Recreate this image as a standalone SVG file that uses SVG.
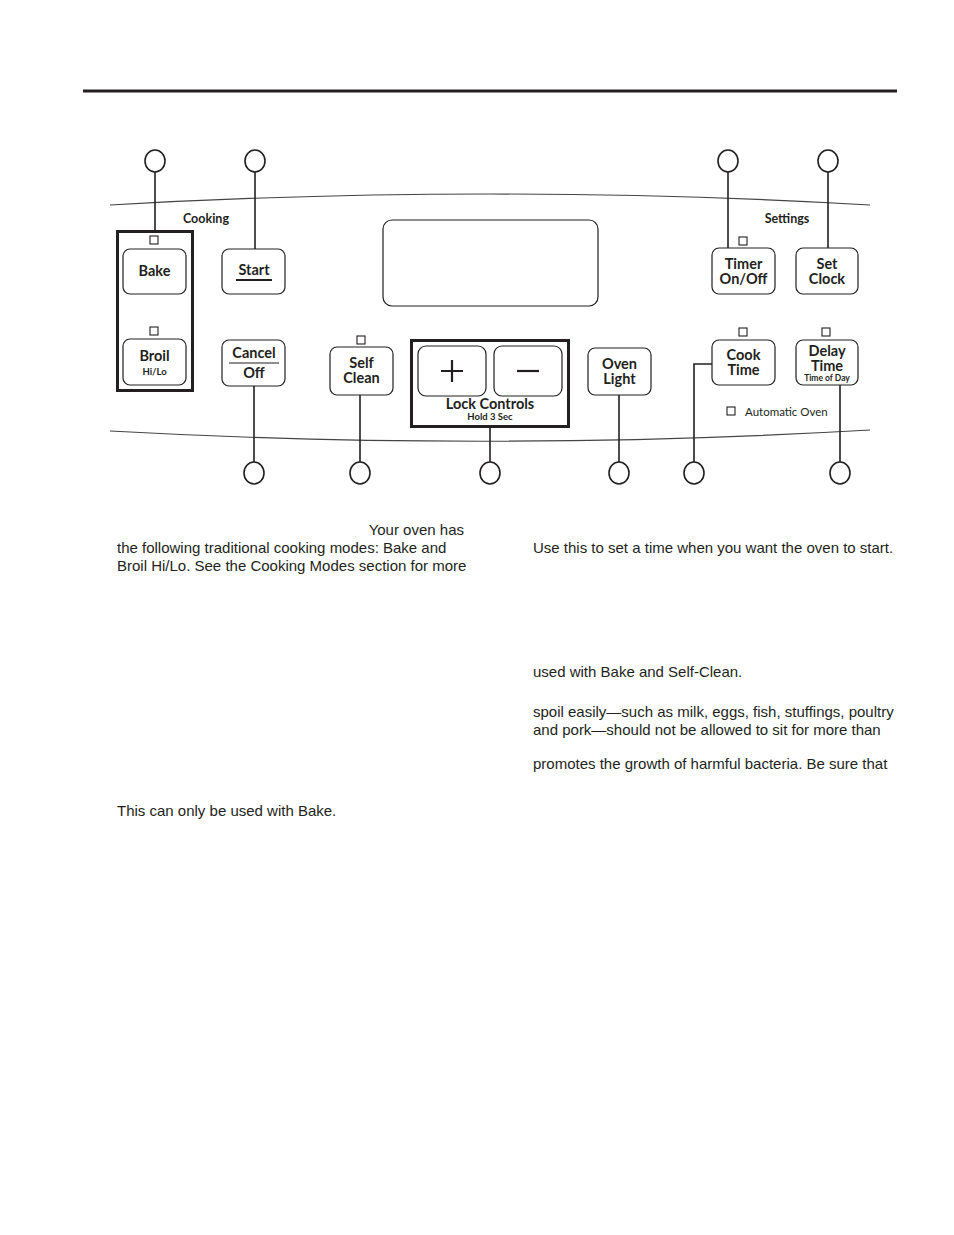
<svg xmlns="http://www.w3.org/2000/svg" width="954" height="1235" viewBox="0 0 954 1235">
<style>
.btn{fill:#fff;stroke:#231f20;stroke-width:1.2}
.box{fill:none;stroke:#231f20;stroke-width:3}
.ind{fill:#fff;stroke:#231f20;stroke-width:1.1}
.bt{font-family:Lato,"Liberation Sans",sans-serif;font-weight:700;font-size:14.5px;fill:#231f20;text-anchor:middle}
.sm{font-family:Lato,"Liberation Sans",sans-serif;font-weight:700;font-size:9.5px;fill:#231f20;text-anchor:middle}
.lab{font-family:Lato,"Liberation Sans",sans-serif;font-weight:700;font-size:12.5px;fill:#231f20;text-anchor:middle}
.ao{font-family:Lato,"Liberation Sans",sans-serif;font-size:11.5px;fill:#231f20}
.p{font-family:"Liberation Sans",Arial,sans-serif;font-size:15px;fill:#231f20}
.c{fill:#fff;stroke:#231f20;stroke-width:1.6}
.ln{fill:none;stroke:#231f20;stroke-width:1.6}
</style>
<line x1="83" y1="91" x2="897" y2="91" stroke="#231f20" stroke-width="3"/>
<path d="M110 205 Q490 183 870 205" fill="none" stroke="#444" stroke-width="1.2"/>
<path d="M110 431 Q490 452 870 430" fill="none" stroke="#444" stroke-width="1.2"/>
<text class="lab" x="206" y="223">Cooking</text>
<text class="lab" x="787" y="223">Settings</text>
<g id="connectors">
<line class="ln" x1="155" y1="172" x2="155" y2="231"/>
<line class="ln" x1="255" y1="172" x2="255" y2="249"/>
<line class="ln" x1="728" y1="172" x2="728" y2="248"/>
<line class="ln" x1="828" y1="172" x2="828" y2="248"/>
<line class="ln" x1="254" y1="386" x2="254" y2="462"/>
<line class="ln" x1="360" y1="395" x2="360" y2="462"/>
<line class="ln" x1="490" y1="427" x2="490" y2="462"/>
<line class="ln" x1="619" y1="395" x2="619" y2="462"/>
<polyline class="ln" points="712,364 694,364 694,462"/>
<line class="ln" x1="840" y1="385" x2="840" y2="462"/>
</g>
<g id="callouts">
<ellipse class="c" cx="155" cy="161" rx="10" ry="11"/>
<ellipse class="c" cx="255" cy="161" rx="10" ry="11"/>
<ellipse class="c" cx="728" cy="161" rx="10" ry="11"/>
<ellipse class="c" cx="828" cy="161" rx="10" ry="11"/>
<ellipse class="c" cx="254" cy="473" rx="10" ry="11"/>
<ellipse class="c" cx="360" cy="473" rx="10" ry="11"/>
<ellipse class="c" cx="490" cy="473" rx="10" ry="11"/>
<ellipse class="c" cx="619" cy="473" rx="10" ry="11"/>
<ellipse class="c" cx="694" cy="473" rx="10" ry="11"/>
<ellipse class="c" cx="840" cy="473" rx="10" ry="11"/>
</g>
<g id="cooking-group"><rect class="box" x="117.5" y="231.5" width="75" height="159"/></g>
<g id="bake">
<rect class="ind" x="150" y="236" width="8" height="8"/>
<rect class="btn" x="123" y="249" width="63" height="45" rx="7"/>
<text class="bt" x="154.5" y="276">Bake</text>
</g>
<g id="broil">
<rect class="ind" x="150" y="327" width="8" height="8"/>
<rect class="btn" x="123" y="339" width="63" height="46" rx="7"/>
<text class="bt" x="154.5" y="361">Broil</text>
<text class="sm" x="154.5" y="375">Hi/Lo</text>
</g>
<g id="start">
<rect class="btn" x="222" y="249" width="63" height="45" rx="7"/>
<text class="bt" x="254" y="275">Start</text>
<line x1="236" y1="280" x2="272" y2="280" stroke="#231f20" stroke-width="1.8"/>
</g>
<g id="cancel">
<rect class="btn" x="222" y="340" width="63" height="46" rx="7"/>
<text class="bt" x="254" y="358">Cancel</text>
<line x1="229" y1="363" x2="279" y2="363" stroke="#231f20" stroke-width="1.2"/>
<text class="bt" x="254" y="378">Off</text>
</g>
<g id="display"><rect class="btn" x="383" y="220" width="215" height="86" rx="9"/></g>
<g id="self-clean">
<rect class="ind" x="357" y="336" width="8" height="8"/>
<rect class="btn" x="330" y="347" width="63" height="48" rx="7"/>
<text class="bt" x="361.5" y="368">Self</text>
<text class="bt" x="361.5" y="383">Clean</text>
</g>
<g id="lock-controls">
<rect class="box" x="411.5" y="340.5" width="157" height="86"/>
<rect class="btn" x="418" y="346" width="68" height="50" rx="8" stroke-width="2"/>
<rect class="btn" x="494" y="346" width="68" height="50" rx="8" stroke-width="2"/>
<path d="M452 360v22M441 371h22" stroke="#231f20" stroke-width="2.2"/>
<path d="M517 371h22" stroke="#231f20" stroke-width="2.2"/>
<text class="bt" x="490" y="409">Lock Controls</text>
<text class="sm" x="490" y="420">Hold 3 Sec</text>
</g>
<g id="oven-light">
<rect class="btn" x="588" y="348" width="63" height="47" rx="7"/>
<text class="bt" x="619.5" y="369">Oven</text>
<text class="bt" x="619.5" y="384">Light</text>
</g>
<g id="timer">
<rect class="ind" x="739" y="237" width="8" height="8"/>
<rect class="btn" x="712" y="248" width="63" height="46" rx="7"/>
<text class="bt" x="743.5" y="269">Timer</text>
<text class="bt" x="743.5" y="284">On/Off</text>
</g>
<g id="set-clock">
<rect class="btn" x="796" y="248" width="62" height="46" rx="7"/>
<text class="bt" x="827" y="269">Set</text>
<text class="bt" x="827" y="284">Clock</text>
</g>
<g id="cook-time">
<rect class="ind" x="739" y="328" width="8" height="8"/>
<rect class="btn" x="712" y="340" width="63" height="45" rx="7"/>
<text class="bt" x="743.5" y="360">Cook</text>
<text class="bt" x="743.5" y="375">Time</text>
</g>
<g id="delay-time">
<rect class="ind" x="822" y="328" width="8" height="8"/>
<rect class="btn" x="796" y="340" width="62" height="45" rx="7"/>
<text class="bt" x="827" y="356">Delay</text>
<text class="bt" x="827" y="371">Time</text>
<text class="sm" x="827" y="381" style="font-size:8.5px">Time of Day</text>
</g>
<g id="automatic-oven">
<rect class="ind" x="727" y="407" width="8" height="8"/>
<text class="ao" x="745" y="416">Automatic Oven</text>
</g>
<g id="text">
<text class="p" x="464" y="535" text-anchor="end">Your oven has</text>
<text class="p" x="117" y="553">the following traditional cooking modes: Bake and</text>
<text class="p" x="117" y="571">Broil Hi/Lo. See the Cooking Modes section for more</text>
<text class="p" x="117" y="816">This can only be used with Bake.</text>
<text class="p" x="533" y="553">Use this to set a time when you want the oven to start.</text>
<text class="p" x="533" y="677">used with Bake and Self-Clean.</text>
<text class="p" x="533" y="717">spoil easily—such as milk, eggs, fish, stuffings, poultry</text>
<text class="p" x="533" y="735">and pork—should not be allowed to sit for more than</text>
<text class="p" x="533" y="769">promotes the growth of harmful bacteria. Be sure that</text>
</g>
</svg>
